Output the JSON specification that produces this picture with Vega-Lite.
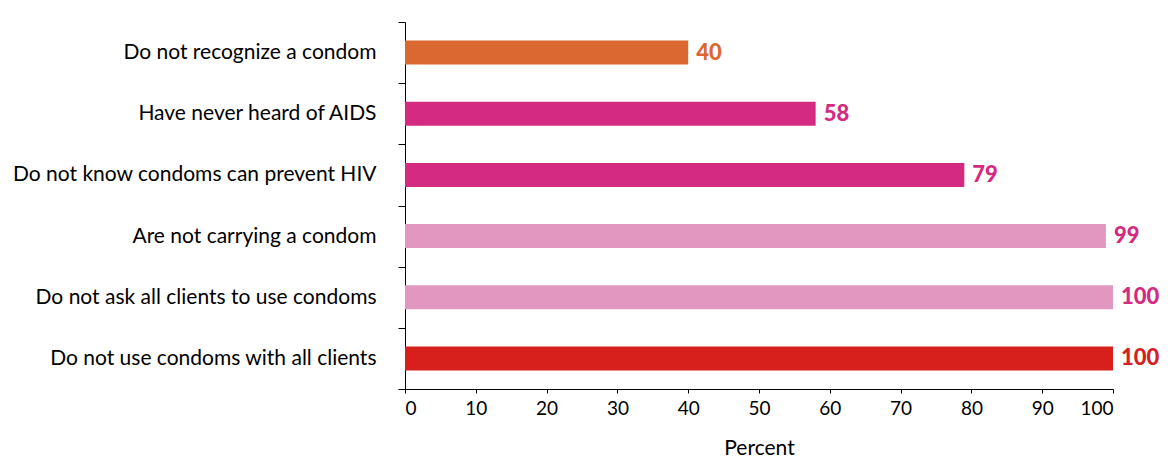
{
  "$schema": "https://vega.github.io/schema/vega-lite/v6.json",
  "width": 708,
  "height": 367,
  "autosize": "none",
  "padding": {"left": 405, "top": 22, "right": 63, "bottom": 72},
  "background": "white",
  "config": {"view": {"stroke": null}, "font": "Lato"},
  "data": {"values": [
    {"item": "Do not recognize a condom", "value": 40},
    {"item": "Have never heard of AIDS", "value": 58},
    {"item": "Do not know condoms can prevent HIV", "value": 79},
    {"item": "Are not carrying a condom", "value": 99},
    {"item": "Do not ask all clients to use condoms", "value": 100},
    {"item": "Do not use condoms with all clients", "value": 100}
  ]},
  "encoding": {
    "y": {"field": "item", "type": "nominal", "sort": null,
      "scale": {"paddingInner": 0, "paddingOuter": 0},
      "axis": {"title": null, "tickBand": "extent", "tickSize": 7, "tickColor": "#000", "domainColor": "#000", "labelFontSize": 21, "labelColor": "#000", "labelPadding": 22, "labelLimit": 400, "labelFont": "Lato"}}
  },
  "layer": [
    {"mark": {"type": "bar", "size": 24},
     "encoding": {"x": {"field": "value", "type": "quantitative", "scale": {"domain": [0, 100]},
       "axis": {"title": "Percent", "values": [0,10,20,30,40,50,60,70,80,90,100], "grid": false, "tickSize": 4, "tickColor": "#000", "domainColor": "#000", "labelFontSize": 19, "labelColor": "#000", "labelPadding": 6, "titleFontSize": 21, "titleFontWeight": "normal", "titleColor": "#000", "titlePadding": 19}},
       "color": {"field": "item", "type": "nominal", "sort": null, "legend": null,
         "scale": {"domain": ["Do not recognize a condom", "Have never heard of AIDS", "Do not know condoms can prevent HIV", "Are not carrying a condom", "Do not ask all clients to use condoms", "Do not use condoms with all clients"],
           "range": ["#DB6830", "#D42A82", "#D42A82", "#E297C0", "#E297C0", "#D7201C"]}}}},
    {"mark": {"type": "text", "align": "left", "dx": 8, "fontSize": 22, "fontWeight": 900, "font": "Lato"},
     "encoding": {"x": {"field": "value", "type": "quantitative"},
       "text": {"field": "value", "type": "quantitative"},
       "color": {"field": "item", "type": "nominal", "sort": null, "legend": null,
         "scale": {"domain": ["Do not recognize a condom", "Have never heard of AIDS", "Do not know condoms can prevent HIV", "Are not carrying a condom", "Do not ask all clients to use condoms", "Do not use condoms with all clients"],
           "range": ["#DA6830", "#D42A82", "#D42A82", "#D42A82", "#D42A82", "#D4201E"]}}}}
  ],
  "resolve": {"scale": {"color": "independent"}}
}
